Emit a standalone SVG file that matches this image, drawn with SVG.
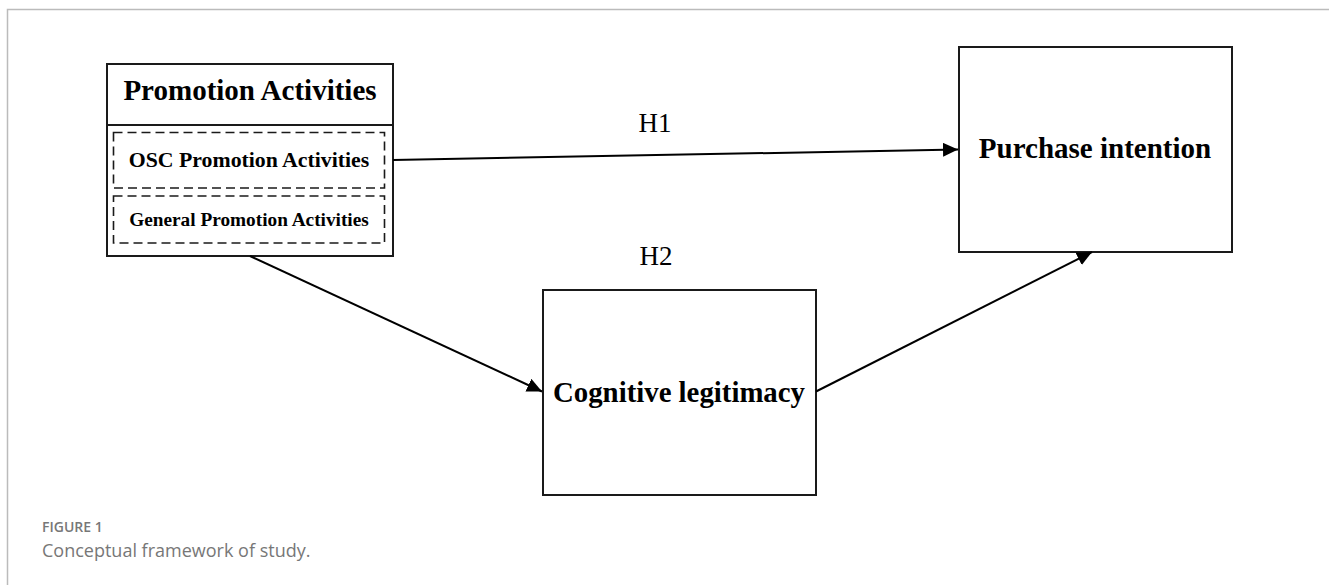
<svg xmlns="http://www.w3.org/2000/svg" width="1329" height="585" viewBox="0 0 1329 585">
<style>
.box{fill:#fff;stroke:#1a1a1a;stroke-width:2}
.dash{fill:none;stroke:#1a1a1a;stroke-width:1.6;stroke-dasharray:9 5}
.t{font-family:"Liberation Serif","Times New Roman",serif;font-weight:bold;fill:#000;text-anchor:middle}
.h{font-family:"Liberation Serif","Times New Roman",serif;font-size:27px;fill:#000;text-anchor:middle}
.con{stroke:#000;stroke-width:2;fill:none;marker-end:url(#ah)}
.cap{font-family:"Open Sans","Lato",sans-serif;fill:#777}
</style>
<defs>
<marker id="ah" viewBox="0 0 15 14" refX="15" refY="7" markerWidth="15" markerHeight="14" markerUnits="userSpaceOnUse" orient="auto">
<path d="M0,0 L15,7 L0,14 Z" fill="#000"/>
</marker>
</defs>
<rect width="1329" height="585" fill="#fff"/>
<path d="M7.5,585 V9.5 H1329" fill="none" stroke="#bbb" stroke-width="1.5"/>
<g id="promotion">
<rect class="box" x="107" y="64" width="286" height="192"/>
<line x1="107" y1="125" x2="393" y2="125" stroke="#1a1a1a" stroke-width="2"/>
<text class="t" x="250" y="100" font-size="29">Promotion Activities</text>
<g id="osc">
<rect class="dash" x="113.5" y="132.5" width="271" height="55.5"/>
<text class="t" x="249" y="167" font-size="21.8">OSC Promotion Activities</text>
</g>
<g id="general">
<rect class="dash" x="113.5" y="196" width="271" height="47"/>
<text class="t" x="249" y="226" font-size="19.3">General Promotion Activities</text>
</g>
</g>
<g id="purchase">
<rect class="box" x="959" y="47" width="273" height="205"/>
<text class="t" x="1095" y="158" font-size="29">Purchase intention</text>
</g>
<g id="cognitive">
<rect class="box" x="543" y="290" width="273" height="205"/>
<text class="t" x="679" y="402" font-size="28.8">Cognitive legitimacy</text>
</g>
<g id="connectors">
<line class="con" x1="393" y1="160" x2="958" y2="149.5"/>
<line class="con" x1="250" y1="256" x2="542" y2="391.5"/>
<line class="con" x1="816" y1="391.5" x2="1092" y2="252"/>
<text class="h" x="655" y="132">H1</text>
<text class="h" x="656" y="265">H2</text>
</g>
<text class="cap" x="42" y="532" font-size="14" font-weight="600">FIGURE 1</text>
<text class="cap" x="42" y="557" font-size="18">Conceptual framework of study.</text>
</svg>
